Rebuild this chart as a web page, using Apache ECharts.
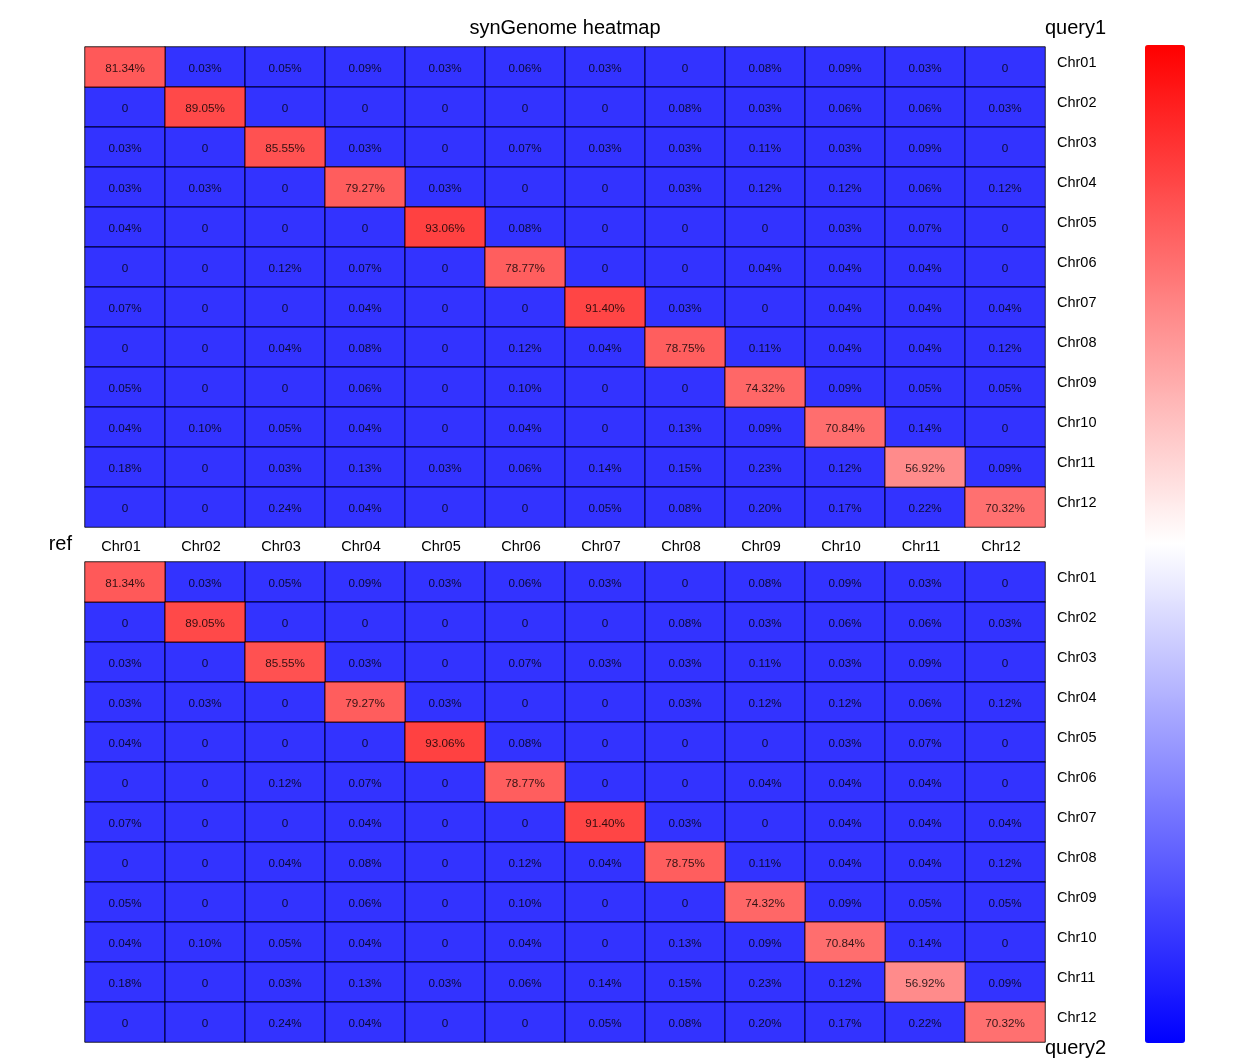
<!DOCTYPE html>
<html>
<head>
<meta charset="utf-8">
<script src="https://cdn.jsdelivr.net/npm/echarts@6/dist/echarts.min.js"></script>
<style>html,body{margin:0;padding:0;background:#fff}#c{width:1239px;height:1063px}</style>
</head>
<body>
<div id="c"></div>
<script>
const chromosomes = ['Chr01','Chr02','Chr03','Chr04','Chr05','Chr06','Chr07','Chr08','Chr09','Chr10','Chr11','Chr12'];
// rows = query chromosome, columns = ref chromosome (percent)
const query1 = [
  [81.34, 0.03, 0.05, 0.09, 0.03, 0.06, 0.03, 0, 0.08, 0.09, 0.03, 0],
  [0, 89.05, 0, 0, 0, 0, 0, 0.08, 0.03, 0.06, 0.06, 0.03],
  [0.03, 0, 85.55, 0.03, 0, 0.07, 0.03, 0.03, 0.11, 0.03, 0.09, 0],
  [0.03, 0.03, 0, 79.27, 0.03, 0, 0, 0.03, 0.12, 0.12, 0.06, 0.12],
  [0.04, 0, 0, 0, 93.06, 0.08, 0, 0, 0, 0.03, 0.07, 0],
  [0, 0, 0.12, 0.07, 0, 78.77, 0, 0, 0.04, 0.04, 0.04, 0],
  [0.07, 0, 0, 0.04, 0, 0, 91.40, 0.03, 0, 0.04, 0.04, 0.04],
  [0, 0, 0.04, 0.08, 0, 0.12, 0.04, 78.75, 0.11, 0.04, 0.04, 0.12],
  [0.05, 0, 0, 0.06, 0, 0.10, 0, 0, 74.32, 0.09, 0.05, 0.05],
  [0.04, 0.10, 0.05, 0.04, 0, 0.04, 0, 0.13, 0.09, 70.84, 0.14, 0],
  [0.18, 0, 0.03, 0.13, 0.03, 0.06, 0.14, 0.15, 0.23, 0.12, 56.92, 0.09],
  [0, 0, 0.24, 0.04, 0, 0, 0.05, 0.08, 0.20, 0.17, 0.22, 70.32]
];
const query2 = [
  [81.34, 0.03, 0.05, 0.09, 0.03, 0.06, 0.03, 0, 0.08, 0.09, 0.03, 0],
  [0, 89.05, 0, 0, 0, 0, 0, 0.08, 0.03, 0.06, 0.06, 0.03],
  [0.03, 0, 85.55, 0.03, 0, 0.07, 0.03, 0.03, 0.11, 0.03, 0.09, 0],
  [0.03, 0.03, 0, 79.27, 0.03, 0, 0, 0.03, 0.12, 0.12, 0.06, 0.12],
  [0.04, 0, 0, 0, 93.06, 0.08, 0, 0, 0, 0.03, 0.07, 0],
  [0, 0, 0.12, 0.07, 0, 78.77, 0, 0, 0.04, 0.04, 0.04, 0],
  [0.07, 0, 0, 0.04, 0, 0, 91.40, 0.03, 0, 0.04, 0.04, 0.04],
  [0, 0, 0.04, 0.08, 0, 0.12, 0.04, 78.75, 0.11, 0.04, 0.04, 0.12],
  [0.05, 0, 0, 0.06, 0, 0.10, 0, 0, 74.32, 0.09, 0.05, 0.05],
  [0.04, 0.10, 0.05, 0.04, 0, 0.04, 0, 0.13, 0.09, 70.84, 0.14, 0],
  [0.18, 0, 0.03, 0.13, 0.03, 0.06, 0.14, 0.15, 0.23, 0.12, 56.92, 0.09],
  [0, 0, 0.24, 0.04, 0, 0, 0.05, 0.08, 0.20, 0.17, 0.22, 70.32]
];
const SPLIT = 1; // values below this are drawn in the low (blue) colour

function cells(matrix, high) {
  const out = [];
  matrix.forEach((row, y) => row.forEach((v, x) => {
    if ((v >= SPLIT) === high) out.push([x, y, v]);
  }));
  return out;
}

const FONT = 'Liberation Sans, Arial, sans-serif';
const labelCfg = {
  show: true, fontSize: 11.7, color: '#000', fontFamily: FONT, offset: [0, 1.5],
  formatter: p => p.value[2] === 0 ? '0' : p.value[2].toFixed(2) + '%'
};
const itemCfg = { borderColor: '#000', borderWidth: 1, opacity: 0.8 };

function heat(gi, data, color) {
  return {
    type: 'heatmap', xAxisIndex: gi, yAxisIndex: gi, data: data,
    label: labelCfg,
    itemStyle: color ? Object.assign({ color: color }, itemCfg) : itemCfg,
    emphasis: { disabled: true }, silent: true
  };
}

function xAx(gi, showLabels) {
  return {
    type: 'category', gridIndex: gi, data: chromosomes, position: 'bottom',
    axisLine: { show: false }, axisTick: { show: false }, splitLine: { show: false },
    axisLabel: {
      show: showLabels, margin: 12,
      formatter: v => '{a|' + v + '}',
      rich: { a: { fontSize: 14.5, color: '#000', fontFamily: FONT, padding: [0, 8, 0, 0] } }
    }
  };
}
function yAx(gi) {
  return {
    type: 'category', gridIndex: gi, data: chromosomes, inverse: true, position: 'right',
    axisLine: { show: false }, axisTick: { show: false }, splitLine: { show: false },
    axisLabel: {
      margin: 12,
      formatter: v => '{a|' + v + '}',
      rich: { a: { fontSize: 14.5, color: '#000', fontFamily: FONT, padding: [0, 0, 8, 0] } }
    }
  };
}

const chart = echarts.init(document.getElementById('c'), null, { renderer: 'canvas' });
chart.setOption({
  animation: false,
  backgroundColor: '#fff',
  grid: [
    { left: 85, top: 47, width: 960, height: 480 },
    { left: 85, top: 562, width: 960, height: 480 }
  ],
  xAxis: [xAx(0, true), xAx(1, false)],
  yAxis: [yAx(0), yAx(1)],
  visualMap: [
    {
      type: 'continuous', show: true, min: 0, max: 100, seriesIndex: 4,
      calculable: false, text: ['', ''], showLabel: false,
      left: 1140, top: 40, itemWidth: 40, itemHeight: 998, padding: 5,
      inRange: { color: ['#0000ff', '#ffffff', '#ff0000'] }
    },
    {
      type: 'continuous', show: false, min: 0, max: 100, seriesIndex: [1, 3],
      inRange: { color: ['#ffffff', '#ff0000'] }
    }
  ],
  graphic: [
    { type: 'text', x: 565, y: 28.5, style: { text: 'synGenome heatmap', fontSize: 20, fill: '#000', fontFamily: FONT, align: 'center', verticalAlign: 'middle' } },
    { type: 'text', x: 1045, y: 28.5, style: { text: 'query1', fontSize: 20, fill: '#000', fontFamily: FONT, align: 'left', verticalAlign: 'middle' } },
    { type: 'text', x: 1045, y: 1048.5, style: { text: 'query2', fontSize: 20, fill: '#000', fontFamily: FONT, align: 'left', verticalAlign: 'middle' } },
    { type: 'text', x: 72, y: 544.5, style: { text: 'ref', fontSize: 20, fill: '#000', fontFamily: FONT, align: 'right', verticalAlign: 'middle' } }
  ],
  series: [
    heat(0, cells(query1, false), '#0000ff'),
    heat(0, cells(query1, true)),
    heat(1, cells(query2, false), '#0000ff'),
    heat(1, cells(query2, true)),
    { type: 'heatmap', xAxisIndex: 0, yAxisIndex: 0, data: [], silent: true }
  ]
});
</script>
</body>
</html>
